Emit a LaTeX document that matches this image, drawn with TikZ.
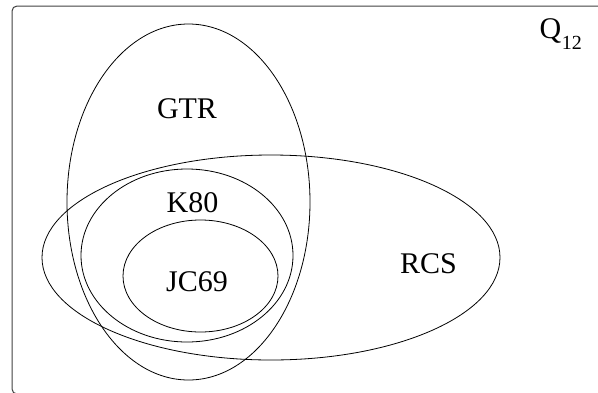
\documentclass[tikz,border=0pt]{standalone}
\usepackage{fontspec}
\setmainfont{Liberation Serif}
\begin{document}
\begin{tikzpicture}[x=1pt,y=-1pt,
  setline/.style={draw=black,line width=0.8pt},
  lbl/.style={inner sep=0pt,anchor=base,font=\fontsize{30}{30}\selectfont}]
\useasboundingbox (0,0) rectangle (598,392);
\begin{scope}
\clip (0,0) rectangle (598,392);
\draw[draw=black!75,line width=1pt,rounded corners=5pt] (12,6) rectangle (606,394);
\end{scope}
\draw[setline] (188.5,202) ellipse [x radius=121.5, y radius=178];
\draw[setline] (271,257.5) ellipse [x radius=229, y radius=102.5];
\draw[setline] (187,255.5) ellipse [x radius=106, y radius=86.5];
\draw[setline] (200.5,276) ellipse [x radius=77.5, y radius=56];
\node[lbl] (gtr) at (187,118) {GTR};
\node[lbl] (k80) at (192.5,212) {K80};
\node[lbl] (jc69) at (197,291) {JC69};
\node[lbl] (rcs) at (428.5,273) {RCS};
\node[lbl,anchor=base west] (q) at (539.5,38) {Q\kern0.5pt\raisebox{-11pt}{\fontsize{20}{20}\selectfont 12}};
\end{tikzpicture}
\end{document}
